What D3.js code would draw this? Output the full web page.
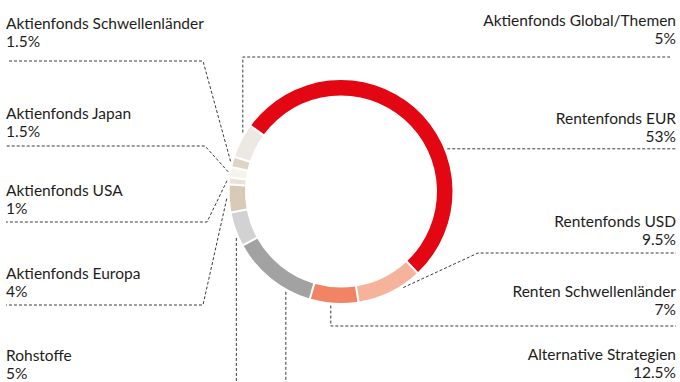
<!DOCTYPE html>
<html>
<head>
<meta charset="utf-8">
<script src="https://cdn.jsdelivr.net/npm/d3@7"></script>
<style>
  html, body { margin: 0; padding: 0; background: #fff; }
  svg { display: block; }
  text { font-family: Lato, "Open Sans", sans-serif; font-size: 15.5px; fill: #1d1d1b; }
</style>
</head>
<body>
<svg id="chart" width="680" height="382"></svg>
<script>
// Portfolio allocation, clockwise from the upper left
const categories = [
  "Rentenfonds EUR",
  "Rentenfonds USD",
  "Renten Schwellenländer",
  "Alternative Strategien",
  "Rohstoffe",
  "Aktienfonds Europa",
  "Aktienfonds USA",
  "Aktienfonds Japan",
  "Aktienfonds Schwellenländer",
  "Aktienfonds Global/Themen"
];
const shares = [53, 9.5, 7, 12.5, 5, 4, 1, 1.5, 1.5, 5];
const colors = [
  "#e30613", "#f6b39c", "#f08465", "#a2a2a2", "#d2d2d2",
  "#d7cbb8", "#e9e2d8", "#f6f3ef", "#ddd4c6", "#ece8e3"
];

// Label placement: side, first baseline, anchor position within the slice,
// and the leader route (null = keep previous coordinate)
const labelLayout = [
  { side: "right", y: 124, t: 0.64, route: [[676, null]] },
  { side: "right", y: 227, t: 0.30, route: [[478, 253], [676, null]] },
  { side: "right", y: 297, t: 0.56, route: [[null, 326], [676, null]] },
  { side: "right", y: 360, t: 0.28, route: [[null, 382]] },
  { side: "left",  y: 361, t: 0.27, route: [[null, 382]] },
  { side: "left",  y: 279, t: 0.50, route: [[203, 305], [6, null]] },
  { side: "left",  y: 196, t: 0.50, route: [[207, 222], [6, null]] },
  { side: "left",  y: 119, t: 0.50, route: [[205, 146], [6, null]] },
  { side: "left",  y: 29,  t: 0.50, route: [[203, 61], [7, null]] },
  { side: "right", y: 26,  t: 0.72, route: [[null, 57], [670, null]] }
];

const cx = 341, cy = 191.5;
const outerR = 111.5, innerR = 96, leaderR = 114.5;
const deg = Math.PI / 180;

const svg = d3.select("#chart");

const pie = d3.pie()
  .sort(null)
  .value(d => d.value)
  .startAngle(-54 * deg)
  .endAngle(306 * deg);

const data = categories.map((c, i) => ({ name: c, value: shares[i], color: colors[i], layout: labelLayout[i] }));
const arcs = pie(data);

// white gaps between slices, taken from each slice's own angle
const arc = d3.arc().innerRadius(innerR).outerRadius(outerR).padAngle(0.014);

const ring = svg.append("g").attr("transform", `translate(${cx},${cy})`);
ring.selectAll("path")
  .data(arcs)
  .join("path")
  .attr("d", arc)
  .attr("fill", d => d.data.color);

// Leader lines
const line = d3.line();
const leaders = svg.append("g")
  .attr("fill", "none")
  .attr("stroke", "#3a3a3a")
  .attr("stroke-width", 1)
  .attr("stroke-dasharray", "3,2");

arcs.forEach(a => {
  const L = a.data.layout;
  const ang = a.startAngle + (a.endAngle - a.startAngle) * L.t;
  const start = [cx + leaderR * Math.sin(ang), cy - leaderR * Math.cos(ang)];
  const pts = [start];
  L.route.forEach(([x, y]) => {
    const prev = pts[pts.length - 1];
    pts.push([x == null ? prev[0] : x, y == null ? prev[1] : y]);
  });
  leaders.append("path").attr("d", line(pts));
});

// Labels
const labels = svg.append("g");
arcs.forEach(a => {
  const L = a.data.layout;
  const x = L.side === "left" ? 6 : 676;
  const anchor = L.side === "left" ? "start" : "end";
  labels.append("text")
    .attr("x", x).attr("y", L.y)
    .attr("text-anchor", anchor)
    .text(a.data.name);
  labels.append("text")
    .attr("x", x).attr("y", L.y + 18)
    .attr("text-anchor", anchor)
    .text(a.data.value + "%");
});
</script>
</body>
</html>
